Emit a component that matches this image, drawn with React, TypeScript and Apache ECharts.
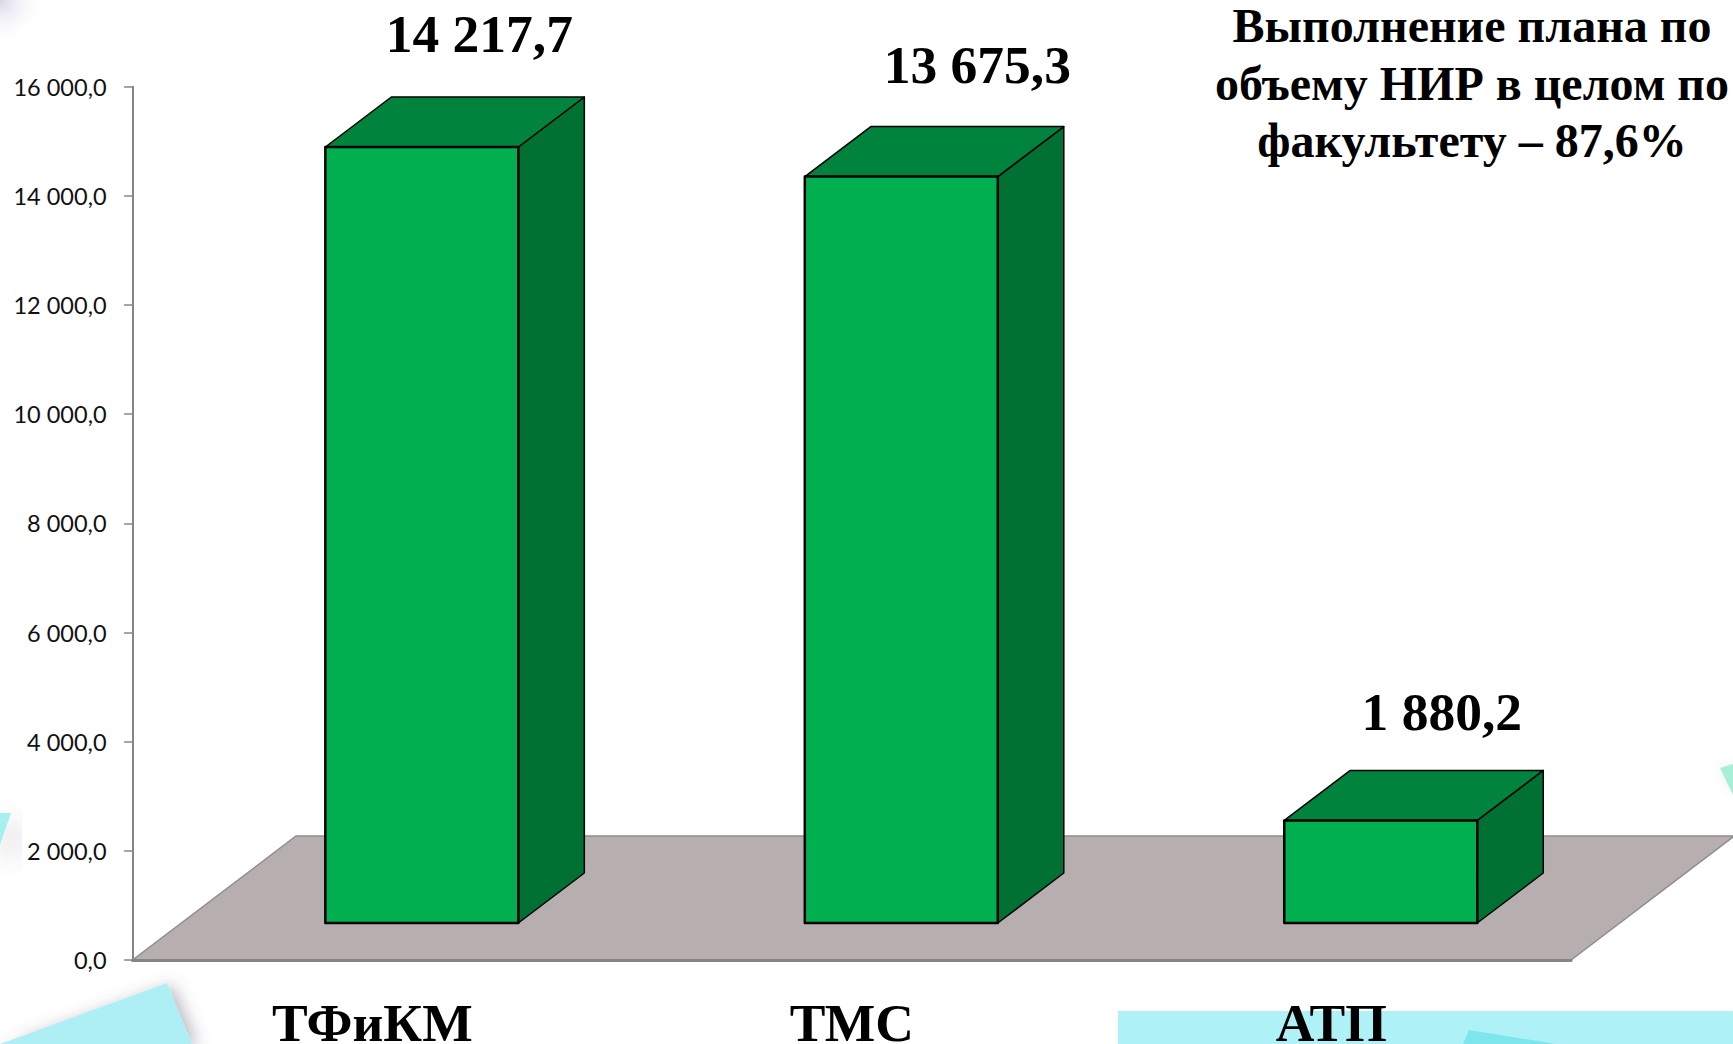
import React, { useEffect, useRef } from "react";
import * as echarts from "echarts";

const categories = ["ТФиКМ", "ТМС", "АТП"];
const values = [14217.7, 13675.3, 1880.2];
const valueLabels = ["14 217,7", "13 675,3", "1 880,2"];
const annotationLines = ["Выполнение плана по", "объему НИР в целом по", "факультету – 87,6%"];

const SERIF = '"Liberation Serif", "Times New Roman", serif';
const FRONT = "#00B050";
const TOP = "#00843D";
const SIDE = "#007033";
const FLOOR = "#B7AFAF";
const AXIS = "#868686";

// oblique projection of the fake 3D
const FLOOR_DX = 163.4, FLOOR_DY = 124;
const PLANE_DX = 49.5, PLANE_DY = 37;
const BAR_DX = 66, BAR_DY = 50;
const BAR_RATIO = 0.4025;
// label placement relative to the top-front centre of each bar
const labelShiftX = [57.5, 76, 61];
const labelShiftY = [-112.5, -112, -108];

const pt = (x: number, y: number): number[] => [x, y];

function renderFloor(_: any, api: any) {
  const band = api.size([1, 0])[0];
  const first = api.coord([0, 0]);
  const last = api.coord([categories.length - 1, 0]);
  const l = first[0] - band / 2;
  const r = last[0] + band / 2;
  const y = first[1];
  return {
    type: "polygon",
    shape: { points: [pt(l, y), pt(r, y), pt(r + FLOOR_DX, y - FLOOR_DY), pt(l + FLOOR_DX, y - FLOOR_DY)] },
    style: { fill: FLOOR, stroke: "#8F8F8F", lineWidth: 1.5 },
  };
}

function renderBar(params: any, api: any) {
  const i = params.dataIndex;
  const band = api.size([1, 0])[0];
  const top = api.coord([api.value(0), api.value(1)]);
  const base = api.coord([api.value(0), 0]);
  const w = band * BAR_RATIO;
  const x0 = top[0] + PLANE_DX - w / 2;
  const x1 = x0 + w;
  const yT = top[1] - PLANE_DY;
  const yB = base[1] - PLANE_DY;
  const edge = { stroke: "#000", lineJoin: "round" };
  return {
    type: "group",
    children: [
      {
        type: "polygon",
        shape: { points: [pt(x1, yT), pt(x1 + BAR_DX, yT - BAR_DY), pt(x1 + BAR_DX, yB - BAR_DY), pt(x1, yB)] },
        style: { fill: SIDE, lineWidth: 1.5, ...edge },
      },
      {
        type: "polygon",
        shape: { points: [pt(x0, yT), pt(x0 + BAR_DX, yT - BAR_DY), pt(x1 + BAR_DX, yT - BAR_DY), pt(x1, yT)] },
        style: { fill: TOP, lineWidth: 1.5, ...edge },
      },
      {
        type: "rect",
        shape: { x: x0, y: yT, width: w, height: yB - yT },
        style: { fill: FRONT, lineWidth: 2.5, ...edge },
      },
      {
        type: "text",
        style: {
          text: valueLabels[i],
          x: (x0 + x1) / 2 + labelShiftX[i],
          y: yT + labelShiftY[i],
          fontSize: 53.5,
          fontWeight: "bold",
          fontFamily: SERIF,
          fill: "#000",
          align: "center",
          verticalAlign: "middle",
        },
      },
    ],
  };
}

const formatTick = (v: number) => String(v).replace(/\B(?=(\d{3})+$)/g, " ") + ",0";

export default function App() {
  const ref = useRef<HTMLDivElement>(null);
  useEffect(() => {
    const chart = echarts.init(ref.current!, undefined, { renderer: "svg" });
    chart.setOption({
      animation: false,
      backgroundColor: "#fff",
      textStyle: { fontFamily: "Lato" },
      grid: { left: 132.6, top: 86.7, width: 1438.4, height: 873.3, containLabel: false, outerBoundsMode: "none" },
      xAxis: {
        type: "category",
        data: categories,
        z: 3,
        boundaryGap: true,
        axisLine: { lineStyle: { color: AXIS, width: 3 } },
        axisTick: { length: 14, lineStyle: { color: AXIS, width: 1.5 } },
        axisLabel: { color: "#000", fontFamily: SERIF, fontWeight: "bold", fontSize: 53.5, lineHeight: 42, margin: 42 },
      },
      yAxis: {
        type: "value",
        min: 0,
        max: 16000,
        interval: 2000,
        z: 3,
        splitLine: { show: false },
        axisLine: { show: true, lineStyle: { color: AXIS, width: 2 } },
        axisTick: { show: true, length: 8.5, lineStyle: { color: AXIS, width: 1.5 } },
        axisLabel: { color: "#111", fontFamily: "Lato", fontSize: 23.5, margin: 26, formatter: formatTick },
      },
      graphic: [
        {
          type: "rect",
          z: -5,
          shape: { x: 0, y: 0, width: 45, height: 45 },
          style: {
            fill: {
              type: "radial", x: 0, y: 0, r: 1,
              colorStops: [
                { offset: 0, color: "rgba(200,200,220,0.75)" },
                { offset: 1, color: "rgba(255,255,255,0)" },
              ],
            },
          },
        },
        {
          type: "polygon", z: -5,
          shape: { points: [[0, 813], [11, 813], [0, 845]] },
          style: { fill: "#A6F0EF", shadowBlur: 28, shadowColor: "rgba(90,80,100,0.65)", shadowOffsetX: 8, shadowOffsetY: 16 },
        },
        {
          type: "polygon", z: -5,
          shape: { points: [[0, 1044], [167, 983], [192, 1044]] },
          style: { fill: "#AEEEF5", shadowBlur: 16, shadowColor: "rgba(90,80,100,0.4)", shadowOffsetX: 6, shadowOffsetY: 2 },
        },
        {
          type: "rect", z: -5,
          shape: { x: 1118, y: 1011, width: 615, height: 33 },
          style: { fill: "#AEF2F8" },
        },
        {
          type: "polygon", z: -4,
          shape: { points: [[1463, 1044], [1469, 1030], [1556, 1044]] },
          style: { fill: "#7DE6EC" },
        },
        {
          type: "polygon", z: -5,
          shape: { points: [[1720, 768], [1733, 764], [1733, 795]] },
          style: { fill: "#A8EFD8", shadowBlur: 10, shadowColor: "rgba(120,110,130,0.15)" },
        },
        {
          type: "text", z: 6, x: 1472, y: -3,
          style: {
            text: annotationLines.join("\n"),
            fontFamily: SERIF, fontWeight: "bold", fontSize: 48, lineHeight: 57.5,
            fill: "#000", align: "center",
          },
        },
      ],
      series: [
        { type: "custom", z: 1, silent: true, data: [[categories[0], 0]], renderItem: renderFloor },
        { type: "custom", z: 2, silent: true, data: values.map((v, i) => [categories[i], v]), encode: { x: 0, y: 1 }, renderItem: renderBar },
      ],
    });
    return () => chart.dispose();
  }, []);
  return <div ref={ref} style={{ position: "fixed", left: 0, top: 0, width: 1733, height: 1044 }} />;
}
